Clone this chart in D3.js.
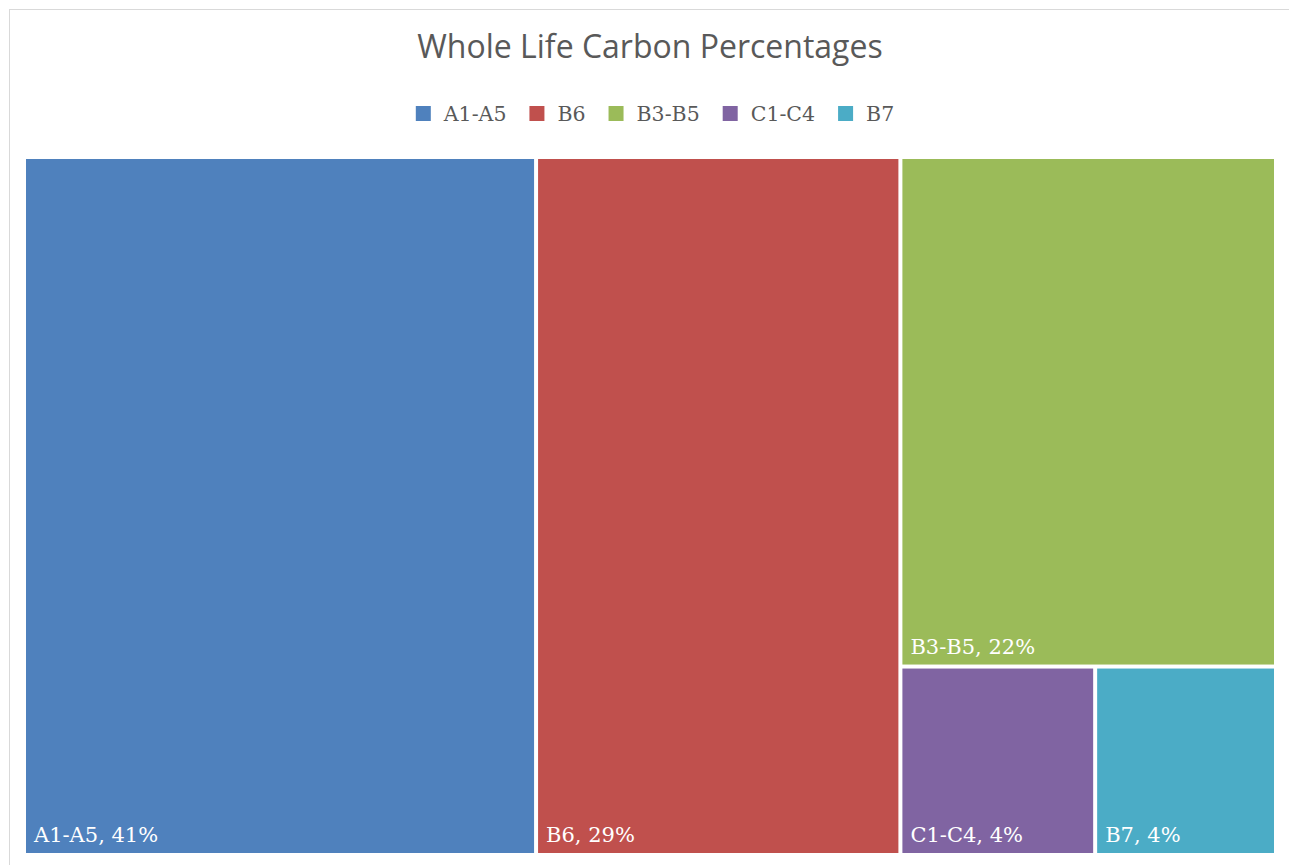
<!DOCTYPE html>
<html>
<head>
<meta charset="utf-8">
<script src="https://cdn.jsdelivr.net/npm/d3@7"></script>
<style>
  body { margin: 0; background: #fff; }
  svg { display: block; }
</style>
</head>
<body>
<div id="chart"></div>
<script>
// values
const categories = ["A1-A5", "B6", "B3-B5", "C1-C4", "B7"];
const shares = [40.9, 29.1, 21.9, 4.2, 3.9];
const colours = ["#4F81BD", "#C0504D", "#9BBB59", "#8064A2", "#4BACC6"];
const chartTitle = "Whole Life Carbon Percentages";

const width = 1289, height = 865;
const plot = {x0: 26, y0: 159, x1: 1274, y1: 853};

const svg = d3.select("#chart").append("svg")
  .attr("width", width)
  .attr("height", height);

// light chart frame, cut off at right/bottom like the picture
svg.append("rect")
  .attr("x", 9.5).attr("y", 9.5)
  .attr("width", width + 20).attr("height", height + 20)
  .attr("fill", "#fff")
  .attr("stroke", "#d9d9d9")
  .attr("stroke-width", 1);

svg.append("text")
  .attr("x", 650).attr("y", 58)
  .attr("text-anchor", "middle")
  .attr("font-family", "'Open Sans', sans-serif")
  .attr("font-size", 32)
  .attr("fill", "#595959")
  .text(chartTitle);

const colour = d3.scaleOrdinal().domain(categories).range(colours);

// legend, laid out from measured text widths and centred
const legend = svg.append("g");
const items = legend.selectAll("g")
  .data(categories)
  .join("g");
items.append("rect")
  .attr("y", 106)
  .attr("width", 15).attr("height", 15)
  .attr("fill", d => colour(d));
items.append("text")
  .attr("x", 28)
  .attr("y", 121)
  .attr("font-family", "'DejaVu Serif', serif")
  .attr("font-size", 20.5)
  .attr("fill", "#595959")
  .text(d => d);
let cursor = 0;
items.each(function() {
  const w = d3.select(this).select("text").node().getComputedTextLength();
  d3.select(this).attr("transform", `translate(${cursor},0)`);
  cursor += 28 + w + 23;
});
const legendWidth = cursor - 23;
legend.attr("transform", `translate(${655 - legendWidth / 2},0)`);

// treemap
const root = d3.hierarchy({children: categories.map((c, i) => ({name: c, value: shares[i]}))})
  .sum(d => d.value || 0);

d3.treemap()
  .tile(d3.treemapSquarify.ratio(1))
  .size([plot.x1 - plot.x0, plot.y1 - plot.y0])
  .paddingInner(4)(root);

const cells = svg.append("g")
  .attr("transform", `translate(${plot.x0},${plot.y0})`)
  .selectAll("g")
  .data(root.leaves())
  .join("g");

cells.append("rect")
  .attr("x", d => d.x0).attr("y", d => d.y0)
  .attr("width", d => d.x1 - d.x0)
  .attr("height", d => d.y1 - d.y0)
  .attr("fill", d => colour(d.data.name));

cells.append("text")
  .attr("x", d => d.x0 + 8)
  .attr("y", d => d.y1 - 11)
  .attr("font-family", "'DejaVu Serif', serif")
  .attr("font-size", 21)
  .attr("fill", "#fff")
  .text(d => `${d.data.name}, ${Math.round(d.data.value)}%`);
</script>
</body>
</html>
